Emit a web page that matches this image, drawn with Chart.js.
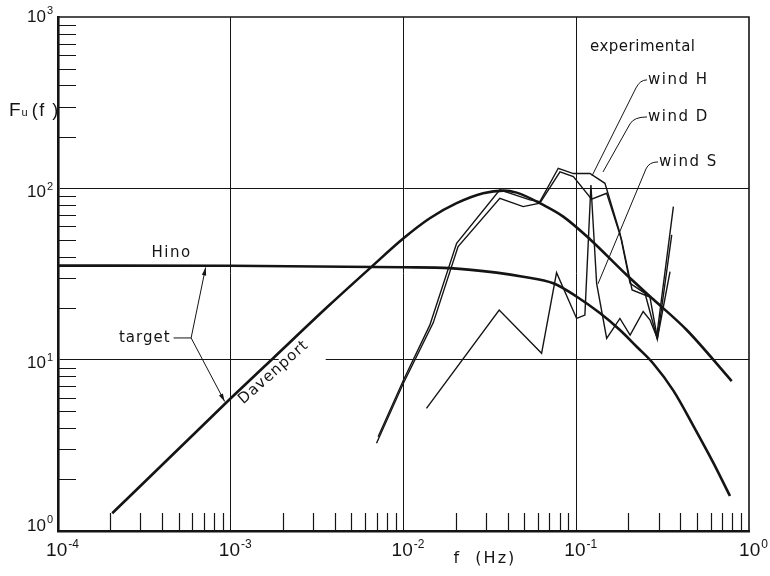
<!DOCTYPE html>
<html>
<head>
<meta charset="utf-8">
<script src="https://cdn.jsdelivr.net/npm/chart.js@4.4.0/dist/chart.umd.min.js"></script>
<style>
  html, body { margin: 0; padding: 0; background: #fff; }
  #wrap { width: 770px; height: 576px; }
</style>
</head>
<body>
<div id="wrap"><canvas id="c" width="770" height="576"></canvas></div>
<script>
// Target spectra: Davenport and Hino (frequency in Hz, Fu(f))
const davenportFreq = [2.06e-4, 5e-4, 1e-3, 1.76e-3, 3.74e-3, 6.38e-3, 0.01, 0.0142, 0.0203, 0.0289, 0.0378, 0.0452, 0.0644, 0.0841, 0.120, 0.196, 0.279, 0.436, 0.794];
const davenportF    = [1.27, 3.02, 5.95, 10.2, 20.9, 34.1, 51.1, 66.9, 81.9, 93.6, 97.0, 94.4, 80.0, 68.4, 50.5, 31.2, 22.5, 14.9, 7.5];

const hinoFreq = [1e-4, 1e-3, 0.01, 0.0185, 0.0346, 0.0493, 0.0736, 0.1008, 0.137, 0.179, 0.224, 0.279, 0.365, 0.477, 0.622, 0.776];
const hinoF    = [35.4, 35.3, 34.6, 34.2, 32.2, 30.5, 27.9, 23.3, 18.7, 14.9, 11.9, 9.5, 6.6, 4.1, 2.5, 1.6];

// Experimental spectra of the recorded winds
const windHFreq = [0.00713, 0.01, 0.0142, 0.0203, 0.0361, 0.0539, 0.0616, 0.0787, 0.0962, 0.120, 0.1466, 0.179, 0.205, 0.250, 0.292, 0.365];
const windHF    = [3.55, 7.61, 15.9, 47.8, 97.9, 85.6, 83.6, 131, 122, 122, 107, 54.7, 27.9, 24.4, 13.6, 78.2];

const windDFreq = [0.00698, 0.01, 0.01486, 0.0207, 0.0361, 0.0493, 0.0616, 0.0805, 0.0962, 0.1227, 0.150, 0.183, 0.2105, 0.267, 0.295, 0.357];
const windDF    = [3.25, 7.31, 16.4, 45.7, 87.5, 78.2, 81.9, 124.7, 117, 86.4, 93.6, 50.0, 25.5, 23.2, 13.3, 53.5];

const windSFreq = [0.01358, 0.0358, 0.0630, 0.0769, 0.1005, 0.1122, 0.1216, 0.1312, 0.150, 0.179, 0.205, 0.244, 0.267, 0.295, 0.349];
const windSF    = [5.2, 19.5, 10.9, 32.2, 17.4, 18.2, 104.7, 27.9, 13.3, 17.4, 13.9, 19.1, 17.1, 13.3, 32.6];

// Axis decades and their exponent labels
const xDecades   = [1e-4, 1e-3, 1e-2, 1e-1, 1];
const xExponents = ['-4', '-3', '-2', '-1', '0'];
const yDecades   = [1, 10, 100, 1000];
const yExponents = ['0', '1', '2', '3'];
const minorSteps = [2, 3, 4, 5, 6, 7, 8, 9];

const INK = '#141414';
const TEXT_FONT = '"DejaVu Sans", sans-serif';
const TICK_FONT = '"Liberation Sans", Arial, sans-serif';

const toPoints = (fs, vs) => fs.map((f, i) => ({ x: f, y: vs[i] }));

// Placement of the hand-lettered notes, in data coordinates (f, Fu)
const notes = {
  experimental: { f: 0.1201, v: 669 },
  windH: { f: 0.2568, v: 429.5, leader: [[0.2568, 429.5], [0.2339, 429.5], [0.2217, 385.5], [0.1233, 118.1]] },
  windD: { f: 0.2568, v: 261, leader: [[0.2568, 261], [0.2159, 261], [0.2047, 237.7], [0.1428, 124.6]] },
  windS: { f: 0.2974, v: 142.6, leader: [[0.2974, 142.6], [0.2637, 142.6], [0.2533, 129.8], [0.1336, 27.7]] },
  hino: { f: 4.546e-4, v: 41.97 },
  target: { f: 4.485e-4, v: 13.39, dashFrom: 4.67e-4, vertex: [5.896e-4, 13.39],
            toHino: [7.155e-4, 34.52], toDavenport: [9.22e-4, 5.70] },
  davenport: { f: 1.772e-3, v: 8.42, angle: -41.5 },
  axisX: { f: 0.0296 },
  axisY: { v: 287 }
};
// the 10^1 grid line is interrupted where the Davenport label sits
const gridBreak = { at: 10, from: 1.895e-3, to: 3.546e-3 };

function drawPower(ctx, exp, x, y, base, sup, align) {
  ctx.font = base + 'px ' + TICK_FONT;
  const w1 = ctx.measureText('10').width;
  ctx.font = sup + 'px ' + TICK_FONT;
  const w2 = ctx.measureText(exp).width;
  const total = w1 + 1 + w2;
  const left = align === 'right' ? x - total : x - total / 2;
  ctx.textAlign = 'left';
  ctx.textBaseline = 'alphabetic';
  ctx.font = base + 'px ' + TICK_FONT;
  ctx.fillText('10', left, y);
  ctx.font = sup + 'px ' + TICK_FONT;
  ctx.fillText(exp, left + w1 + 1, y - base * 0.42);
}

function arrowTo(ctx, x0, y0, x1, y1) {
  ctx.beginPath();
  ctx.moveTo(x0, y0);
  ctx.lineTo(x1, y1);
  ctx.stroke();
  const ang = Math.atan2(y1 - y0, x1 - x0);
  const len = 8, half = 2.2;
  ctx.beginPath();
  ctx.moveTo(x1, y1);
  ctx.lineTo(x1 - len * Math.cos(ang) + half * Math.sin(ang), y1 - len * Math.sin(ang) - half * Math.cos(ang));
  ctx.lineTo(x1 - len * Math.cos(ang) - half * Math.sin(ang), y1 - len * Math.sin(ang) + half * Math.cos(ang));
  ctx.closePath();
  ctx.fill();
}

const framePlugin = {
  id: 'frame',
  beforeDatasetsDraw(chart) {
    const { ctx, chartArea: a, scales: { x, y } } = chart;
    ctx.save();
    // gap in the 10^1 grid line
    const gy = y.getPixelForValue(gridBreak.at);
    ctx.strokeStyle = '#fff';
    ctx.lineWidth = 3;
    ctx.beginPath();
    ctx.moveTo(x.getPixelForValue(gridBreak.from), gy);
    ctx.lineTo(x.getPixelForValue(gridBreak.to), gy);
    ctx.stroke();
    // inward minor ticks
    ctx.strokeStyle = INK;
    ctx.lineWidth = 1.2;
    ctx.beginPath();
    xDecades.slice(0, -1).forEach(d => minorSteps.forEach(m => {
      const px = Math.round(x.getPixelForValue(d * m)) + 0.5;
      ctx.moveTo(px, a.bottom);
      ctx.lineTo(px, a.bottom - 18);
    }));
    yDecades.slice(0, -1).forEach(d => minorSteps.forEach(m => {
      const py = Math.round(y.getPixelForValue(d * m)) + 0.5;
      ctx.moveTo(a.left, py);
      ctx.lineTo(a.left + 18, py);
    }));
    ctx.stroke();
    // top and right edges of the frame
    ctx.lineWidth = 1.6;
    ctx.beginPath();
    ctx.moveTo(a.left, a.top);
    ctx.lineTo(a.right, a.top);
    ctx.lineTo(a.right, a.bottom);
    ctx.stroke();
    ctx.restore();
  },
  afterDatasetsDraw(chart) {
    const { ctx, scales: { x, y } } = chart;
    const P = (f, v) => [x.getPixelForValue(f), y.getPixelForValue(v)];
    ctx.save();
    ctx.fillStyle = INK;
    ctx.strokeStyle = INK;
    ctx.textBaseline = 'middle';
    ctx.font = '15px ' + TEXT_FONT;

    // experimental
    ctx.letterSpacing = '0.5px';
    ctx.textAlign = 'left';
    let p = P(notes.experimental.f, notes.experimental.v);
    ctx.fillText('experimental', p[0], p[1]);

    // wind labels with their leader lines
    ctx.letterSpacing = '1.5px';
    [['windH', 'wind H'], ['windD', 'wind D'], ['windS', 'wind S']].forEach(([k, label]) => {
      const n = notes[k];
      const q = P(n.f, n.v);
      ctx.fillText(label, q[0] + 1, q[1]);
      const L = n.leader.map(pt => P(pt[0], pt[1]));
      ctx.lineWidth = 1;
      ctx.beginPath();
      ctx.moveTo(L[0][0], L[0][1]);
      ctx.quadraticCurveTo(L[1][0], L[1][1], L[2][0], L[2][1]);
      ctx.lineTo(L[3][0], L[3][1]);
      ctx.stroke();
    });

    // Hino
    ctx.textAlign = 'center';
    p = P(notes.hino.f, notes.hino.v);
    ctx.fillText('Hino', p[0], p[1]);

    // target with two arrows
    const t = notes.target;
    ctx.letterSpacing = '1px';
    ctx.textAlign = 'right';
    p = P(t.f, t.v);
    ctx.fillText('target', p[0], p[1]);
    const d0 = P(t.dashFrom, t.v);
    const vx = P(t.vertex[0], t.vertex[1]);
    ctx.lineWidth = 1;
    ctx.beginPath();
    ctx.moveTo(d0[0], d0[1]);
    ctx.lineTo(vx[0], vx[1]);
    ctx.stroke();
    const h = P(t.toHino[0], t.toHino[1]);
    const dv = P(t.toDavenport[0], t.toDavenport[1]);
    arrowTo(ctx, vx[0], vx[1], h[0], h[1]);
    arrowTo(ctx, vx[0], vx[1], dv[0], dv[1]);

    // Davenport, lettered along its curve
    p = P(notes.davenport.f, notes.davenport.v);
    ctx.save();
    ctx.translate(p[0], p[1]);
    ctx.rotate(notes.davenport.angle * Math.PI / 180);
    ctx.textAlign = 'center';
    ctx.letterSpacing = '1px';
    ctx.fillText('Davenport', 0, 0);
    ctx.restore();

    ctx.restore();
  },
  afterDraw(chart) {
    const { ctx, chartArea: a, scales: { x, y } } = chart;
    ctx.save();
    ctx.fillStyle = INK;
    // decade labels
    xDecades.forEach((d, i) => {
      drawPower(ctx, xExponents[i], x.getPixelForValue(d) + 4.5, a.bottom + 25, 19, 12, 'center');
    });
    const yShift = [-9, 0, 0, -4];
    yDecades.forEach((d, i) => {
      drawPower(ctx, yExponents[i], a.left - 5, y.getPixelForValue(d) + 8.5 + yShift[i], 17, 11, 'right');
    });
    // axis titles
    ctx.textBaseline = 'alphabetic';
    ctx.textAlign = 'left';
    const ty = y.getPixelForValue(notes.axisY.v) + 6;
    ctx.font = '19px ' + TICK_FONT;
    ctx.fillText('F', 9, ty);
    let wx = 9 + ctx.measureText('F').width + 1;
    ctx.font = '11px ' + TICK_FONT;
    ctx.fillText('u', wx, ty);
    wx += ctx.measureText('u').width + 4;
    ctx.font = '18px ' + TICK_FONT;
    ctx.letterSpacing = '1.5px';
    ctx.fillText('(f )', wx, ty);
    ctx.textAlign = 'center';
    ctx.font = '16px ' + TEXT_FONT;
    ctx.letterSpacing = '2px';
    ctx.fillText('f  (Hz)', x.getPixelForValue(notes.axisX.f), a.bottom + 32);
    ctx.restore();
  }
};

const smooth = { borderColor: INK, borderWidth: 2.6, pointRadius: 0, cubicInterpolationMode: 'monotone', fill: false };
const jagged = { borderColor: INK, borderWidth: 1.4, pointRadius: 0, tension: 0, fill: false, borderJoinStyle: 'miter' };

new Chart(document.getElementById('c'), {
  type: 'line',
  data: {
    datasets: [
      Object.assign({ label: 'Davenport', data: toPoints(davenportFreq, davenportF) }, smooth),
      Object.assign({ label: 'Hino', data: toPoints(hinoFreq, hinoF) }, smooth),
      Object.assign({ label: 'wind H', data: toPoints(windHFreq, windHF) }, jagged),
      Object.assign({ label: 'wind D', data: toPoints(windDFreq, windDF) }, jagged),
      Object.assign({ label: 'wind S', data: toPoints(windSFreq, windSF) }, jagged)
    ]
  },
  options: {
    responsive: false,
    animation: false,
    devicePixelRatio: 1,
    layout: { padding: { top: 17, right: 21, left: 0, bottom: 0 } },
    plugins: { legend: { display: false }, tooltip: { enabled: false } },
    scales: {
      x: {
        type: 'logarithmic', min: 1e-4, max: 1,
        afterBuildTicks: s => { s.ticks = xDecades.map(v => ({ value: v })); },
        afterFit: s => { s.height = 45; },
        ticks: { display: false },
        grid: {
          drawTicks: false, lineWidth: 1,
          color: c => (c.tick && c.tick.value > 1e-4 && c.tick.value < 1) ? INK : 'rgba(0,0,0,0)'
        },
        border: { display: true, color: INK, width: 2.6 }
      },
      y: {
        type: 'logarithmic', min: 1, max: 1000,
        afterBuildTicks: s => { s.ticks = yDecades.map(v => ({ value: v })); },
        afterFit: s => { s.width = 58; },
        ticks: { display: false },
        grid: {
          drawTicks: false, lineWidth: 1,
          color: c => (c.tick && c.tick.value > 1 && c.tick.value < 1000) ? INK : 'rgba(0,0,0,0)'
        },
        border: { display: true, color: INK, width: 2.6 }
      }
    }
  },
  plugins: [framePlugin]
});
</script>
</body>
</html>
